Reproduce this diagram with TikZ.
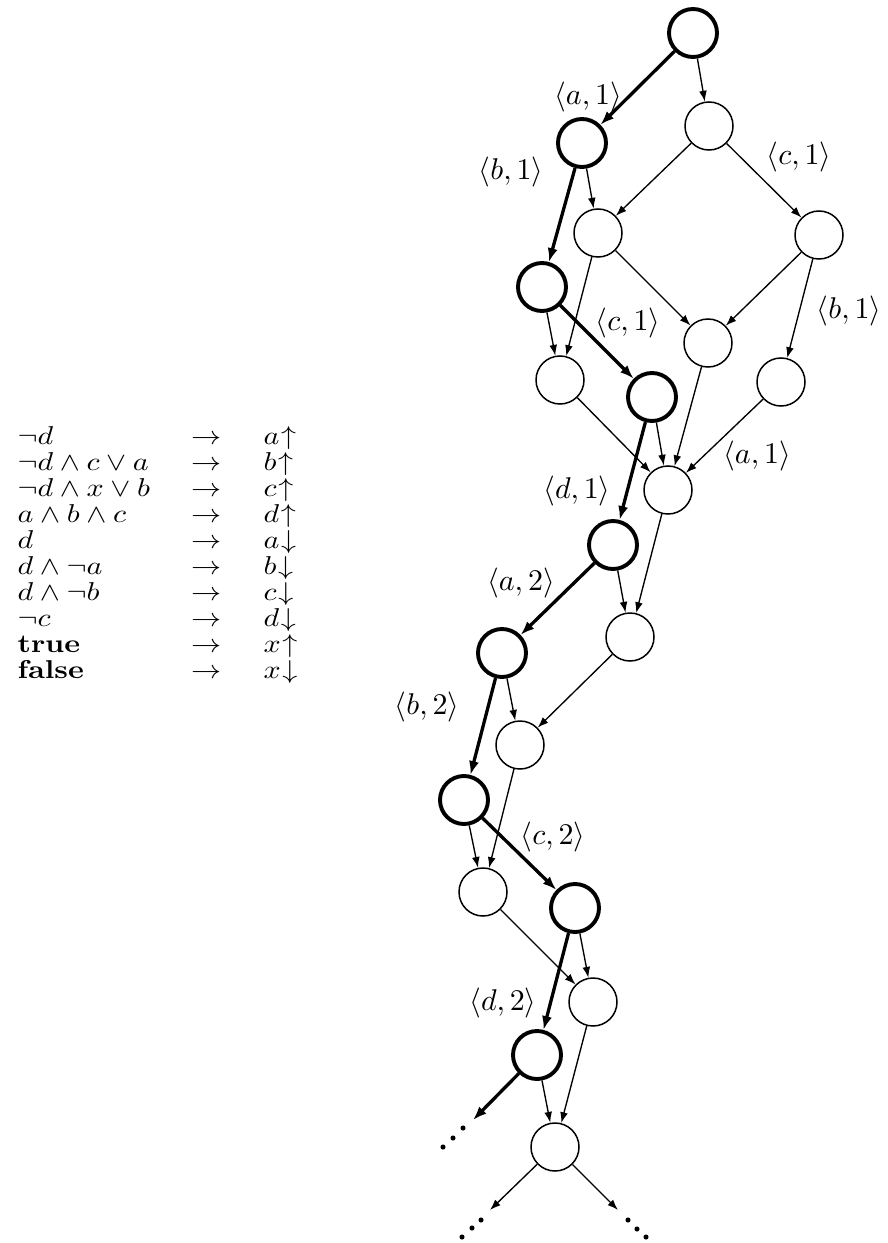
\documentclass[tikz,border=0pt]{standalone}
\usepackage{amsmath, amssymb}
\usepackage{graphicx}
\usepackage{tikz}
\usetikzlibrary{arrows.meta}
\newcommand{\plainstate}[2]{%
  \node[circle, draw, line width=0.5pt, minimum size=16pt,
        inner sep=0pt] (#1) at #2 {};
}
\newcommand{\runstate}[2]{%
  \node[circle, draw, line width=1.3pt, minimum size=16pt,
        inner sep=0pt] (#1) at #2 {};
}
\newcommand{\up}[1]{#1\mkern1mu{\uparrow}}
\newcommand{\dn}[1]{#1\mkern1mu{\downarrow}}
\newcommand{\squash}[1]{\scalebox{1}[0.86]{$#1$}}

\begin{document}
\begin{tikzpicture}[x=0.3333pt, y=-0.3333pt,
      move/.style={-{Latex[length=3.6pt,width=2.6pt]}, line width=0.45pt},
      runmove/.style={-{Latex[length=4.6pt,width=3.4pt]}, line width=1.1pt},
      lbl/.style={inner sep=0pt}]
    \useasboundingbox (0,0) rectangle (887,1243);
    % rules
    \foreach \lhs/\rhs [count=\k from 0] in
      {\neg d/\up{a}, \neg d \wedge c \vee a/\up{b},
       \neg d \wedge x \vee b/\up{c}, a \wedge b \wedge c/\up{d},
       d/\dn{a}, d \wedge \neg a/\dn{b}, d \wedge \neg b/\dn{c},
       \neg c/\dn{d}, \mathbf{true}/\up{x}, \mathbf{false}/\dn{x}}
      {\node[lbl, anchor=base west] (lhs\k) at (17,444+26.1*\k) {\squash{\lhs}};
       \node[lbl, anchor=base] (arr\k) at (206,444+26.1*\k) {\squash{\rightarrow}};
       \node[lbl, anchor=base west] (rhs\k) at (263,444+26.1*\k) {\squash{\rhs}};}
    % states
    \runstate{s0}{(693,33)}
    \runstate{s1}{(582,143)}
    \plainstate{s2}{(709,126)}
    \plainstate{s3}{(598,233)}
    \plainstate{s4}{(819,235)}
    \runstate{s5}{(542,287)}
    \plainstate{s6}{(708,343)}
    \plainstate{s7}{(560,380)}
    \runstate{s8}{(652,397)}
    \plainstate{s9}{(781,382)}
    \plainstate{s10}{(668,490)}
    \runstate{s11}{(613,545)}
    \plainstate{s12}{(630,637)}
    \runstate{s13}{(502,653)}
    \plainstate{s14}{(520,745)}
    \runstate{s15}{(464,800)}
    \plainstate{s16}{(483,892)}
    \runstate{s17}{(575,908)}
    \plainstate{s18}{(593,1002)}
    \runstate{s19}{(537,1055)}
    \plainstate{s20}{(555,1147)}
    \coordinate (dl) at (473,1120);
    \coordinate (dm) at (490,1210);
    \coordinate (dr) at (618,1210);
    % transitions
    \foreach \a/\b in {s0/s1, s1/s5, s5/s8, s8/s11, s11/s13, s13/s15,
                       s15/s17, s17/s19, s19/dl}
      \draw[runmove] (\a) -- (\b);
    \foreach \a/\b in {s0/s2, s1/s3, s2/s3, s2/s4, s3/s7, s3/s6, s4/s6,
                       s4/s9, s5/s7, s7/s10, s8/s10, s6/s10, s9/s10,
                       s10/s12, s11/s12, s12/s14, s13/s14, s14/s16,
                       s15/s16, s16/s18, s17/s18, s18/s20, s19/s20,
                       s20/dm, s20/dr}
      \draw[move] (\a) -- (\b);
    % continuation dots
    \foreach \p in {(443,1147),(453,1138),(463,1128),
                    (462,1237),(472,1228),(481,1220),
                    (628,1220),(637,1229),(646,1237)}
      \fill \p circle (0.85pt);
    % labels
    \node[lbl] (la1) at (588,97) {$\langle a,1\rangle$};
    \node[lbl] (lb1) at (511,172) {$\langle b,1\rangle$};
    \node[lbl] (lc1) at (799,157) {$\langle c,1\rangle$};
    \node[lbl] (lb1r) at (849,311) {$\langle b,1\rangle$};
    \node[lbl] (lc1m) at (628,323) {$\langle c,1\rangle$};
    \node[lbl] (la1r) at (757,456) {$\langle a,1\rangle$};
    \node[lbl] (ld1) at (577,491) {$\langle d,1\rangle$};
    \node[lbl] (la2) at (521,583) {$\langle a,2\rangle$};
    \node[lbl] (lb2) at (427,707) {$\langle b,2\rangle$};
    \node[lbl] (lc2) at (553,837) {$\langle c,2\rangle$};
    \node[lbl] (ld2) at (503,1003) {$\langle d,2\rangle$};
  \end{tikzpicture}
\end{document}
